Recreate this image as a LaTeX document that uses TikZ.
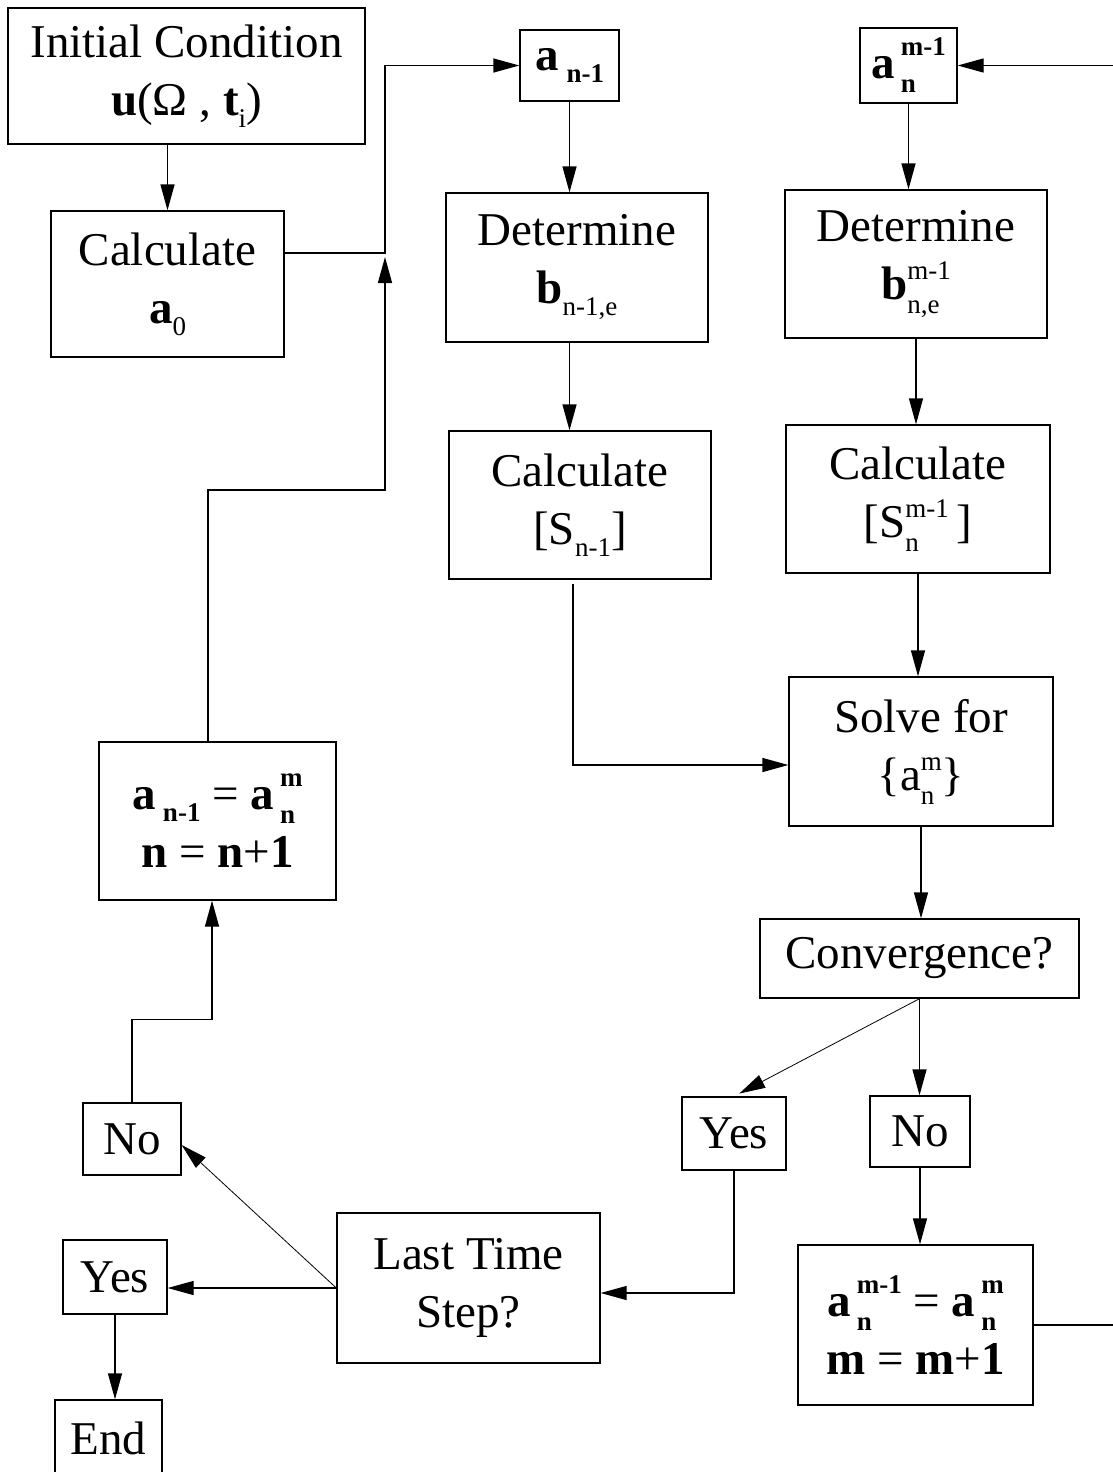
\documentclass[tikz,border=0pt]{standalone}
\usepackage{fontspec}
\setmainfont{Liberation Serif}
\usetikzlibrary{arrows.meta}

\newcommand{\sml}{\fontsize{27}{27}\selectfont}
\newcommand{\lo}[1]{\raisebox{-12pt}{\sml #1}}
\newcommand{\hilo}[3][20pt]{{\sml\setbox0=\hbox{#2}\setbox2=\hbox{#3}%
  \dimen0=\ifdim\wd0>\wd2 \wd0\else\wd2\fi
  \makebox[\dimen0][l]{\rlap{\raisebox{#1}{\box0}}\raisebox{-14pt}{\box2}}}}

\begin{document}
\begin{tikzpicture}[x=1pt, y=-1pt, line width=1.3pt,
    >={Triangle[length=26pt,width=14pt]},
    box/.style={draw, align=center, inner sep=0pt,
      font=\fontsize{47}{58}\selectfont},
    slant/.style={->, line width=0.8pt}]
  \useasboundingbox (0,0) rectangle (1112,1472);

  % left column
  \node[box, minimum width=357, minimum height=136] (init) at (186.5,76)
    {Initial Condition\\ \textbf{u}(Ω , \textbf{t}\lo{i})};
  \node[box, minimum width=233, minimum height=146] (calc0) at (167.5,284)
    {Calculate\\ \textbf{a}\lo{0}};
  \node[box, minimum width=237, minimum height=158] (nup) at (217.5,821)
    {\textbf{a}\hspace{7pt}\textbf{\lo{n-1}} = \textbf{a}\hspace{6pt}\textbf{\hilo[23pt]{m}{n}}\\
     \textbf{n} = \textbf{n}+\textbf{1}};
  \node[box, minimum width=98, minimum height=72] (lno) at (132,1139) {No};
  \node[box, minimum width=104, minimum height=74] (lyes) at (115,1277) {Yes};
  \node[box, minimum width=107, minimum height=76] (fin) at (108.5,1438) {End};
  \node[box, minimum width=263, minimum height=150] (last) at (468.5,1288)
    {Last Time\\ Step?};

  % middle column
  \node[box, minimum width=99, minimum height=71] (aold) at (569.5,65.5)
    {\textbf{a}\hspace{8pt}\textbf{\lo{n-1}}};
  \node[box, minimum width=262, minimum height=149] (detold) at (577,267.5)
    {Determine\\ \textbf{b}\lo{n-1,e}};
  \node[box, minimum width=262, minimum height=148] (sold) at (580,505)
    {Calculate\\ {[}S\lo{n-1}{]}};

  % right column
  \node[box, minimum width=97, minimum height=75] (aiter) at (908.5,65.5)
    {\bfseries a\hspace{6pt}\hilo[23pt]{m-1}{n}};
  \node[box, minimum width=262, minimum height=148] (detnew) at (916,264)
    {Determine\\ \textbf{b}\hilo{m-1}{n,e}};
  \node[box, minimum width=264, minimum height=148] (snew) at (918,499)
    {Calculate\\ {[}S\hilo{m-1}{n}\,{]}};
  \node[box, minimum width=264, minimum height=149] (solve) at (921,751.5)
    {Solve for\\ \{a\hilo{m}{n}\}};
  \node[box, minimum width=319, minimum height=79] (conv) at (919.5,958.5)
    {Convergence?};
  \node[box, minimum width=104, minimum height=73] (cyes) at (734,1133.5) {Yes};
  \node[box, minimum width=100, minimum height=71] (cno) at (920,1131.5) {No};
  \node[box, minimum width=235, minimum height=160] (mup) at (915.5,1325)
    {\textbf{a}\hspace{6pt}\textbf{\hilo[23pt]{m-1}{n}} = \textbf{a}\hspace{6pt}\textbf{\hilo[23pt]{m}{n}}\\
     \textbf{m} = \textbf{m}+\textbf{1}};

  % connectors
  \draw[->] (calc0.north |- init.south) -- (calc0.north);
  \draw[->] ([yshift=31pt]calc0.east) -- (385,253) |- (aold.west);
  \draw[->] ([xshift=-9.5pt]nup.north) |- (385,490) -- (385,257);
  \draw[->] (aold.south) -- (aold.south |- detold.north);
  \draw[->] (aold.south |- detold.south) -- (aold.south |- sold.north);
  \draw[->] ([xshift=-7pt,yshift=-4pt]sold.south) |- ([yshift=-13.5pt]solve.west);
  \draw[->] (aiter.south) -- (aiter.south |- detnew.north);
  \draw[->] (detnew.south) -- (detnew.south |- snew.north);
  \draw[->] (snew.south) -- (snew.south |- solve.north);
  \draw[->] (solve.south) -- (solve.south |- conv.north);
  \draw[slant, shorten >=6pt] (conv.south) -- (cyes.north);
  \draw[->] (conv.south) -- (conv.south |- cno.north);
  \draw[->] (cno.south) -- (cno.south |- mup.north);
  \draw[->] (mup.east) -- (1116,1325) |- (aiter.east);
  \draw[->] (cyes.south) |- ([yshift=-5pt]last.east);
  \draw[->] (last.west) -- (last.west -| lyes.east);
  \draw[slant] (last.west) -- ([yshift=-6pt]lno.east);
  \draw[->] (lyes.south) -- (lyes.south |- fin.north);
  \draw[->] (lno.north) -- ++(0,-83) -| ([xshift=-5.5pt]nup.south);
\end{tikzpicture}
\end{document}
